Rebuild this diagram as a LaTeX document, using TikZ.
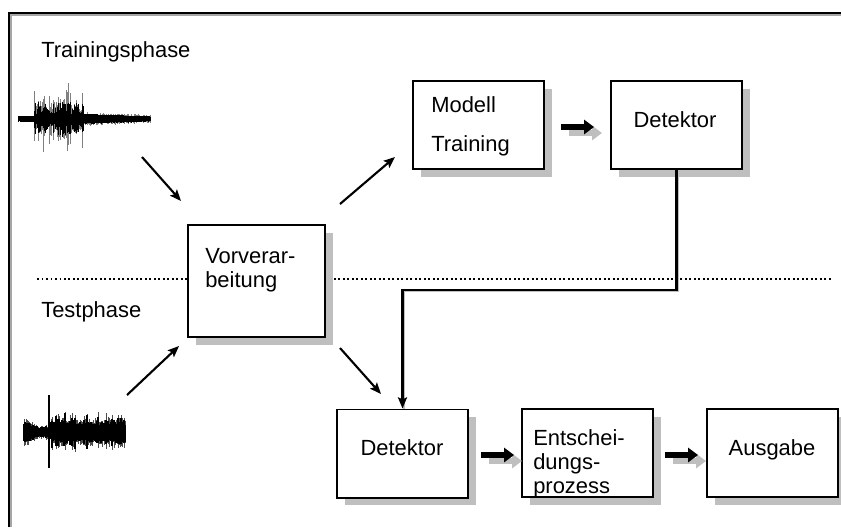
\documentclass[tikz,border=0pt]{standalone}
\usepackage{fontspec}
\setmainfont{Liberation Sans}
\usetikzlibrary{arrows.meta,shadows,calc}

\tikzset{
  box/.style={draw, line width=1.4pt, fill=white, minimum width=3.275cm,
    minimum height=2.2cm, inner sep=0pt,
    drop shadow={shadow xshift=5.5pt, shadow yshift=-5.5pt, fill=black!25, opacity=1}},
  lbl/.style={font=\fontsize{15.6}{18}\selectfont, inner sep=0pt, anchor=base west},
  clbl/.style={lbl, anchor=base},
  arr/.style={line width=1.5pt, -{Stealth[length=8pt,width=6.5pt,inset=1.5pt]}},
  blockarr/.style={line width=3.8pt, -{Triangle[length=7pt,width=10pt]}},
  blockshadow/.style={blockarr, black!25},
  wave/.style={line width=0.45pt},
}

\begin{document}
\begin{tikzpicture}[x=0.025cm, y=-0.025cm]
\useasboundingbox (0,0) rectangle (841,527);
% frame and phase separator
\draw[black!35, line width=0.8pt] (11,527) -- (11,15) -- (841,15);
\draw[line width=1.4pt] (9,527) -- (9,13) -- (841,13);
\draw[line width=1.2pt, dash pattern=on 1.2pt off 2pt] (37,279) -- (831,279);

\node[lbl] (train) at (41,57) {Trainingsphase};
\node[lbl] (test) at (41,317) {Testphase};

% training sound
\pgfmathsetseed{12}
\foreach \x in {18,...,150}{
  \pgfmathsetmacro\amp{(\x<34)*3.5 + and(\x>=34,\x<84)*(10+34*rnd*rnd) + (\x>=84)*(7-3*(\x-84)/66)}
  \pgfmathsetmacro\up{119-\amp*(0.55+0.45*rnd)}
  \pgfmathsetmacro\dn{119+\amp*(0.55+0.45*rnd)}
  \draw[wave, black!50] (\x,\up) -- (\x,\dn);
}
\foreach \x in {18,...,150}{
  \pgfmathsetmacro\amp{(\x<34)*3 + and(\x>=34,\x<84)*(5+12*rnd) + (\x>=84)*(5-2.5*(\x-84)/66)}
  \pgfmathsetmacro\up{119-\amp}
  \pgfmathsetmacro\dn{119+\amp*(0.8+0.3*rnd)}
  \draw[wave, line width=0.7pt] (\x,\up) -- (\x,\dn);
}

% test sound
\foreach \x in {24,...,125}{
  \pgfmathsetmacro\amp{(\x<41)*(15-10*(\x-24)/17) + and(\x>=41,\x<51)*(5+4*rnd) + (\x>=51)*(12+13*rnd*rnd)}
  \pgfmathsetmacro\up{432-\amp*(0.65+0.35*rnd)}
  \pgfmathsetmacro\dn{432+\amp*(0.65+0.35*rnd)}
  \pgfmathsetmacro\cu{432-\amp*(0.5+0.3*rnd)}
  \pgfmathsetmacro\cd{432+\amp*(0.5+0.3*rnd)}
  \draw[wave, black!70] (\x,\up) -- (\x,\dn);
  \draw[wave, line width=0.9pt] (\x,\cu) -- (\x,\cd);
}
\draw[line width=1.3pt] (49,395) -- (49,468);

% blocks
\node[box, minimum width=3.425cm, minimum height=2.8cm] (vorv) at (256.5,281) {};
\node[box] (modell) at (478.5,125) {};
\node[box] (dettrain) at (676.5,125) {};
\node[box] (dettest) at (402.5,453.5) {};
\node[box] (entsch) at (587.5,453) {};
\node[box] (ausgabe) at (772.5,453) {};

\node[lbl] (vorv1) at (205,263) {Vorverar-};
\node[lbl] (vorv2) at (205,287) {beitung};
\node[lbl] (mod1) at (431,112) {Modell};
\node[lbl] (mod2) at (431,151) {Training};
\node[clbl] (det1) at (675,127) {Detektor};
\node[clbl] (det2) at (402,455) {Detektor};
\node[lbl] (ent1) at (533,445) {Entschei-};
\node[lbl] (ent2) at (533,469) {dungs-};
\node[lbl] (ent3) at (533,493) {prozess};
\node[clbl] (aus) at (772,455) {Ausgabe};

% arrows into and out of the preprocessing
\coordinate (a1s) at (142,157); \coordinate (a1e) at (181,201);
\coordinate (a2s) at (340,204); \coordinate (a2e) at (395,157);
\coordinate (a3s) at (127,395); \coordinate (a3e) at (179,346);
\coordinate (a4s) at (340,348); \coordinate (a4e) at (381,394);
\draw[arr] (a1s) -- (a1e);
\draw[arr] (a2s) -- (a2e);
\draw[arr] (a3s) -- (a3e);
\draw[arr] (a4s) -- (a4e);

% trained detector feeds the test detector
\draw[black!25, line width=1.2pt] ([shift={(1.5,1.5)}]dettrain.south) -- ++(0,120) -| ([shift={(1.5,0)}]dettest.north);
\draw[arr] (dettrain.south) -- ++(0,120) -| (dettest.north);

% block arrows with shadow
\coordinate (b1s) at (561,127); \coordinate (b1e) at (594,127);
\coordinate (b2s) at (481,455); \coordinate (b2e) at (514,455);
\coordinate (b3s) at (665,455); \coordinate (b3e) at (698,455);
\draw[blockshadow] ($(b1s)+(8,6)$) -- ($(b1e)+(8,6)$);
\draw[blockarr] (b1s) -- (b1e);
\draw[blockshadow] ($(b2s)+(8,6)$) -- ($(b2e)+(8,6)$);
\draw[blockarr] (b2s) -- (b2e);
\draw[blockshadow] ($(b3s)+(8,6)$) -- ($(b3e)+(8,6)$);
\draw[blockarr] (b3s) -- (b3e);
\end{tikzpicture}
\end{document}
